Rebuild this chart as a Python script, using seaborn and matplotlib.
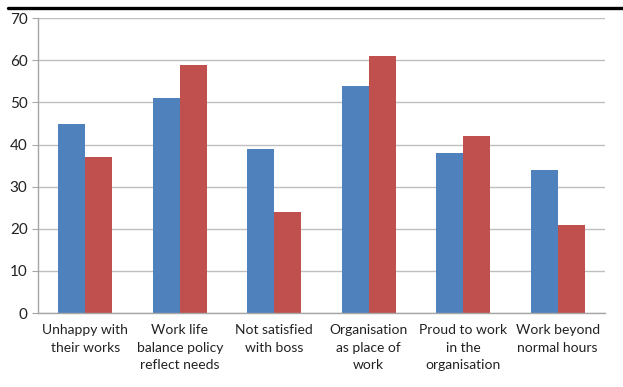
import pandas as pd
import matplotlib.pyplot as plt
import seaborn as sns
from matplotlib.lines import Line2D

categories = ['Unhappy with\ntheir works', 'Work life\nbalance policy\nreflect needs',
              'Not satisfied\nwith boss', 'Organisation\nas place of\nwork',
              'Proud to work\nin the\norganisation', 'Work beyond\nnormal hours']
series_a = [45, 51, 39, 54, 38, 34]
series_b = [37, 59, 24, 61, 42, 21]

df = pd.DataFrame({
    'category': categories * 2,
    'value': series_a + series_b,
    'series': ['A'] * len(categories) + ['B'] * len(categories),
})

sns.set_style('white')
plt.rcParams['font.family'] = ['Lato', 'DejaVu Sans']

fig = plt.figure(figsize=(6.23, 3.87), dpi=100)
ax = fig.add_axes([0.061, 0.191, 0.910, 0.762])

sns.barplot(data=df, x='category', y='value', hue='series',
            palette=['#4F81BD', '#C0504D'], width=0.57, saturation=1,
            linewidth=0, legend=False, ax=ax)

ax.set_ylim(0, 70)
ax.set_yticks(range(0, 71, 10))
ax.set_xlim(-0.5, len(categories) - 0.5)
ax.yaxis.grid(True, color='#BFBFBF', linewidth=1)
ax.set_axisbelow(True)
ax.set_xlabel('')
ax.set_ylabel('')

for s in ['top', 'right']:
    ax.spines[s].set_visible(False)
for s in ['left', 'bottom']:
    ax.spines[s].set_color('#A6A6A6')
    ax.spines[s].set_linewidth(1)

ax.set_xticks([i + 0.5 for i in range(-1, len(categories))], minor=True)
ax.tick_params(axis='x', which='major', length=0, pad=8, labelsize=10, labelcolor='#222222')
ax.tick_params(axis='x', which='minor', length=5, color='#A6A6A6', direction='out')
ax.tick_params(axis='y', length=4, color='#A6A6A6', direction='out', labelsize=11,
               labelcolor='#222222', left=True)
for lbl in ax.get_xticklabels():
    lbl.set_linespacing(1.55)

fig.add_artist(Line2D([0.013, 1.0], [0.979, 0.979], color='black', linewidth=2.4,
                      transform=fig.transFigure))

fig.savefig('out.png', dpi=100)
